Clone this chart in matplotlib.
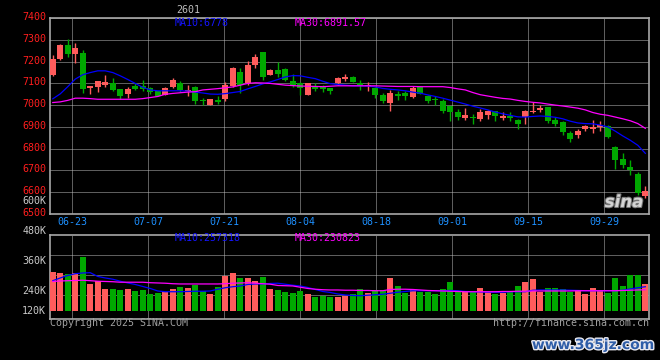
import numpy as np
import matplotlib
matplotlib.use("Agg")
import matplotlib.pyplot as plt
import matplotlib.transforms as mtransforms
import matplotlib.patheffects as pe

# ---- data (80 trading days, 06-18 .. 10-15) ----
opens = [7140, 7211, 7279, 7235, 7238, 7080, 7085, 7092, 7100, 7073,
         7052, 7089, 7089, 7078, 7063, 7048, 7082, 7103, 7066, 7082,
         7024, 7002, 7022, 7029, 7088, 7153, 7100, 7183, 7244, 7140,
         7160, 7165, 7112, 7103, 7047, 7089, 7082, 7077, 7103, 7122,
         7130, 7100, 7087, 7077, 7047, 7010, 7050, 7055, 7037, 7082,
         7040, 7028, 7021, 6994, 6970, 6941, 6946, 6937, 6953, 6971,
         6943, 6948, 6933, 6944, 6968, 6976, 6990, 6933, 6921, 6870,
         6861, 6888, 6892, 6900, 6903, 6805, 6752, 6714, 6683, 6582]
highs = [7230, 7280, 7305, 7288, 7252, 7090, 7113, 7138, 7123, 7075,
         7085, 7100, 7115, 7085, 7065, 7082, 7123, 7110, 7092, 7090,
         7035, 7028, 7040, 7105, 7176, 7171, 7202, 7236, 7246, 7168,
         7198, 7170, 7142, 7106, 7102, 7103, 7092, 7080, 7128, 7142,
         7132, 7115, 7107, 7085, 7055, 7068, 7065, 7066, 7090, 7088,
         7048, 7044, 7027, 6996, 6983, 6989, 6959, 6983, 6979, 6974,
         6968, 6968, 6938, 6979, 7014, 7002, 6992, 6944, 6929, 6880,
         6892, 6908, 6933, 6926, 6908, 6812, 6779, 6747, 6690, 6627]
lows = [7133, 7208, 7224, 7194, 7058, 7053, 7061, 7082, 7066, 7027,
        7032, 7070, 7066, 7050, 7040, 7045, 7078, 7060, 7044, 7006,
        7001, 7000, 7003, 7020, 7085, 7055, 7095, 7170, 7118, 7137,
        7130, 7110, 7082, 7047, 7045, 7066, 7062, 7051, 7093, 7112,
        7105, 7070, 7066, 7032, 7009, 6971, 7024, 7025, 7035, 7050,
        7010, 7002, 6965, 6926, 6933, 6933, 6915, 6926, 6938, 6929,
        6933, 6926, 6888, 6915, 6965, 6968, 6920, 6903, 6862, 6830,
        6847, 6883, 6870, 6883, 6850, 6706, 6709, 6676, 6585, 6570]
closes = [7213, 7275, 7236, 7261, 7076, 7088, 7111, 7106, 7070, 7042,
          7073, 7074, 7073, 7062, 7043, 7079, 7115, 7070, 7070, 7017,
          7017, 7026, 7016, 7092, 7171, 7092, 7183, 7224, 7131, 7160,
          7142, 7117, 7094, 7078, 7100, 7074, 7076, 7063, 7126, 7131,
          7108, 7095, 7092, 7047, 7017, 7056, 7042, 7040, 7081, 7053,
          7020, 7022, 6974, 6967, 6944, 6956, 6941, 6967, 6971, 6952,
          6948, 6942, 6911, 6971, 6974, 6987, 6926, 6915, 6876, 6842,
          6883, 6903, 6900, 6908, 6853, 6749, 6724, 6699, 6596, 6605]
ma10 = [7029, 7052, 7085, 7120, 7140, 7150, 7158, 7158, 7150, 7135,
        7118, 7100, 7082, 7070, 7066, 7066, 7066, 7066, 7065, 7060,
        7056, 7051, 7050, 7053, 7058, 7063, 7075, 7086, 7098, 7107,
        7118, 7130, 7136, 7135, 7128, 7122, 7110, 7099, 7095, 7092,
        7089, 7089, 7088, 7084, 7077, 7073, 7070, 7066, 7060, 7055,
        7047, 7040, 7032, 7023, 7014, 7005, 6995, 6987, 6978, 6968,
        6960, 6953, 6946, 6945, 6948, 6950, 6948, 6944, 6937, 6926,
        6918, 6915, 6914, 6908, 6900, 6880, 6858, 6838, 6815, 6778]
ma30 = [7012, 7015, 7022, 7032, 7032, 7030, 7027, 7027, 7027, 7027,
        7027, 7027, 7030, 7035, 7040, 7050, 7054, 7057, 7060, 7062,
        7070, 7073, 7076, 7080, 7084, 7092, 7100, 7103, 7102, 7100,
        7096, 7092, 7090, 7088, 7087, 7086, 7085, 7087, 7089, 7089,
        7089, 7089, 7089, 7089, 7088, 7087, 7086, 7086, 7086, 7085,
        7085, 7085, 7085, 7081, 7075, 7070, 7058, 7048, 7042, 7036,
        7031, 7028, 7022, 7017, 7013, 7010, 7005, 7000, 6996, 6991,
        6986, 6978, 6966, 6958, 6953, 6945, 6937, 6928, 6915, 6893]

# volume in K lots
volume = [315, 313, 308, 313, 376, 269, 280, 248, 248, 244,
          247, 240, 244, 229, 233, 237, 248, 257, 253, 264,
          238, 228, 257, 301, 313, 293, 293, 281, 295, 248,
          244, 237, 233, 240, 228, 217, 220, 217, 215, 220,
          228, 248, 233, 244, 244, 293, 260, 231, 244, 237,
          235, 228, 247, 276, 241, 237, 237, 251, 237, 228,
          233, 237, 260, 276, 288, 237, 251, 251, 247, 237,
          241, 228, 251, 241, 233, 291, 260, 304, 304, 268]
vol_ma10 = [281, 292, 302, 309, 312, 313, 298, 292, 287, 279,
            272, 266, 258, 250, 240, 237, 237, 237, 238, 239,
            239, 240, 247, 253, 257, 260, 266, 268, 268, 270,
            271, 267, 263, 260, 254, 246, 238, 234, 228, 224,
            222, 221, 223, 225, 227, 231, 235, 238, 241, 241,
            241, 241, 241, 242, 241, 238, 237, 236, 235, 235,
            235, 237, 237, 237, 243, 244, 244, 244, 244, 243,
            242, 241, 241, 241, 241, 241, 243, 248, 253, 257]
vol_ma30 = [278, 280, 281, 282, 283, 281, 279, 278, 277, 275,
            275, 275, 275, 273, 272, 271, 269, 268, 268, 268,
            268, 268, 268, 269, 271, 272, 273, 271, 269, 267,
            262, 261, 260, 255, 250, 247, 245, 244, 244, 243,
            243, 242, 242, 241, 241, 246, 247, 247, 246, 244,
            242, 241, 240, 239, 238, 237, 237, 237, 237, 237,
            238, 238, 239, 239, 240, 240, 240, 240, 240, 240,
            241, 241, 241, 241, 241, 241, 242, 243, 244, 245]

date_labels = ['06-23', '07-07', '07-21', '08-04', '08-18', '09-01', '09-15', '09-29']
price_ticks = list(range(6500, 7401, 100))
vol_labels = [600, 480, 360, 240, 120]

RED = '#FF5C5C'
GREEN = '#00A800'
GRID = '#BDBDBD'
SPINE = '#A8A8A8'
MONO = 'DejaVu Sans Mono'
FS = 7.2

o = np.array(opens); h = np.array(highs); l = np.array(lows); c = np.array(closes)
x = np.arange(len(o))
cols = [RED if cc >= oo else GREEN for oo, cc in zip(o, c)]

fig = plt.figure(figsize=(6.6, 3.6), dpi=100, facecolor='black')
ax = fig.add_axes([0.0762, 0.4064, 0.9076, 0.5428], facecolor='black')
axv = fig.add_axes([0.0762, 0.1139, 0.9076, 0.2342], facecolor='black')

xlim = (-0.33, 79.53)
grid_x = np.linspace(2.6, 73.53, len(date_labels))

# ---- price panel ----
ax.vlines(x, l, h, colors=cols, lw=1.0, zorder=3)
body = np.maximum(np.abs(c - o), 4)
ax.bar(x, body, bottom=np.minimum(o, c), width=0.8, color=cols, lw=0, zorder=4)
ax.plot(x, ma10, color='#0000FF', lw=0.9, zorder=5)
ax.plot(x, ma30, color='#FF00FF', lw=0.9, zorder=5)

ax.set_xlim(*xlim)
ax.set_ylim(6500, 7400)
ax.set_yticks(price_ticks)
ax.set_yticklabels([str(p) for p in price_ticks], color='#FF1E1E', fontsize=FS, family=MONO)
ax.set_xticks(grid_x)
ax.set_xticklabels(date_labels, color='#1E90FF', fontsize=FS, family=MONO)
ax.tick_params(length=0, pad=2.5)
ax.tick_params(axis='y', pad=3)
ax.grid(True, color=GRID, lw=0.72, linestyle=(0, (1, 1)), zorder=1)
for lab in ax.get_yticklabels():
    lab.set_transform(lab.get_transform() + mtransforms.ScaledTranslation(0, 2 / 100, fig.dpi_scale_trans))

# ---- volume panel ----
base = 160
axv.bar(x, np.array(volume) - base, bottom=base, width=0.8, color=cols, lw=0, zorder=3)
axv.plot(x, vol_ma10, color='#0000FF', lw=0.9, zorder=5)
axv.plot(x, vol_ma30, color='#FF00FF', lw=0.9, zorder=5)
axv.set_xlim(*xlim)
axv.set_ylim(128, 465)
axv.set_xticks(grid_x)
axv.set_xticklabels([])
axv.set_yticks([224, 304, 384])
axv.set_yticklabels([])
axv.tick_params(length=0)
axv.grid(True, color=GRID, lw=0.72, linestyle=(0, (1, 1)), zorder=1)
tr = mtransforms.blended_transform_factory(axv.transAxes, axv.transData)
for v in vol_labels:
    axv.text(-0.0067, max(v, base), '%dK' % v, transform=tr, ha='right', va='center',
             color='#C8C8C8', fontsize=FS, family=MONO, clip_on=False, zorder=6)

for a in (ax, axv):
    for s in a.spines.values():
        s.set_color(SPINE)
        s.set_linewidth(1.2)

# ---- texts ----
fig.text(188 / 660, 1 - 10 / 360, '2601', color='#BEBEBE', fontsize=FS, family=MONO,
         ha='center', va='center')
fig.text(175 / 660, 1 - 23 / 360, 'MA10:6778', color='#1414FF', fontsize=FS, family=MONO, va='center')
fig.text(295 / 660, 1 - 23 / 360, 'MA30:6891.57', color='#FF00FF', fontsize=FS, family=MONO, va='center')
fig.text(175 / 660, 1 - 238 / 360, 'MA10:257318', color='#1414FF', fontsize=FS, family=MONO, va='center')
fig.text(295 / 660, 1 - 238 / 360, 'MA30:230823', color='#FF00FF', fontsize=FS, family=MONO, va='center')
fig.text(50 / 660, 1 - 323 / 360, 'Copyright 2025 SINA.COM', color='#A0A0A0', fontsize=FS,
         family=MONO, va='center')
fig.text(649 / 660, 1 - 323 / 360, 'http://finance.sina.com.cn', color='#A0A0A0', fontsize=FS,
         family=MONO, va='center', ha='right')
fig.text(624 / 660, 1 - 202 / 360, 'sina', color='#DADADA', fontsize=12, weight='bold',
         style='italic', ha='center', va='center', alpha=0.9,
         path_effects=[pe.withStroke(linewidth=1.5, foreground='#808080')])
fig.text(593 / 660, 1 - 345 / 360, 'www.365jz.com', color='#2F5DA8', fontsize=10,
         weight='bold', ha='center', va='center',
         path_effects=[pe.withStroke(linewidth=2.0, foreground='#E8E8F0')])

fig.savefig('out.png', dpi=100, facecolor='black')
